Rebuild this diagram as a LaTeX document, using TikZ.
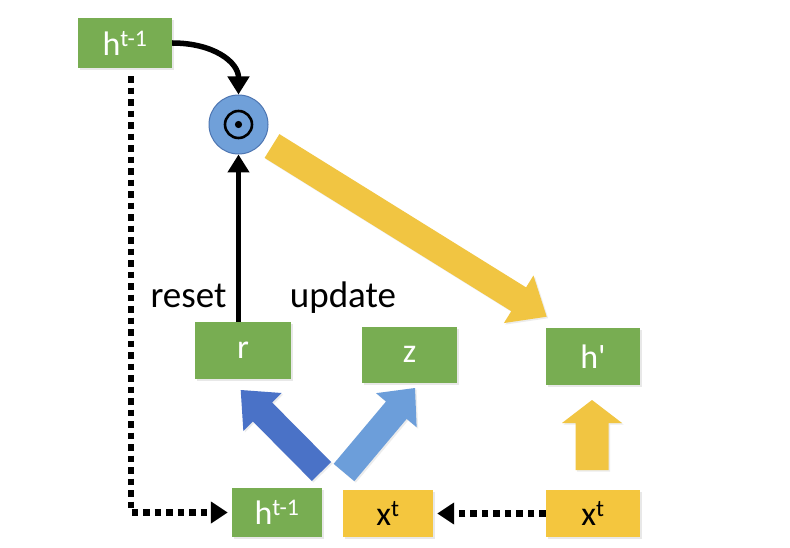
\documentclass[tikz,border=0pt]{standalone}
\usepackage{fontspec}
\setmainfont{Carlito}
\usetikzlibrary{arrows.meta,calc,shadows}
\definecolor{gbox}{RGB}{120,173,82}
\definecolor{ybox}{RGB}{244,198,62}
\definecolor{yarrow}{RGB}{241,197,66}
\definecolor{cfill}{RGB}{112,160,217}
\definecolor{cline}{RGB}{78,118,178}
\definecolor{bdark}{RGB}{74,114,199}
\definecolor{blight}{RGB}{108,158,218}
\tikzset{
  boxbase/.style={rectangle, inner sep=0pt, font=\fontsize{34}{40}\selectfont,
    drop shadow={opacity=0.18, shadow xshift=1.5pt, shadow yshift=-2pt}},
  gbx/.style={boxbase, fill=gbox, text=white},
  ybx/.style={boxbase, fill=ybox, text=black},
  lbl/.style={font=\fontsize{37}{44}\selectfont, anchor=base, inner sep=0pt},
  blackarrow/.style={line width=5.5pt, -{Triangle[length=18pt,width=21pt]}},
  dotline/.style={line width=6.5pt, dash pattern=on 6.5pt off 5pt,
    -{Triangle[length=17pt,width=21pt]}, shorten >=4pt},
  blockshadow/.style={drop shadow={opacity=0.15, shadow xshift=1.5pt, shadow yshift=-1.5pt}}
}
% #1 tail, #2 tip, #3 half shaft, #4 half head, #5 head length, #6 style
\newcommand\blockarrow[6]{%
  \coordinate (#1-hb) at ($(#2)!#5!(#1)$);
  \fill[#6] ($(#1)!#3!90:(#2)$) -- ($(#1-hb)!#3!90:(#2)$) -- ($(#1-hb)!#4!90:(#2)$)
    -- (#2) -- ($(#1-hb)!#4!-90:(#2)$) -- ($(#1-hb)!#3!-90:(#2)$)
    -- ($(#1)!#3!-90:(#2)$) -- cycle;
}
\begin{document}
\begin{tikzpicture}[x=1pt,y=-1pt]
\fill[white] (0,0) rectangle (790,548);
\useasboundingbox (0,0) rectangle (790,548);

% boxes
\node[gbx, minimum width=94pt, minimum height=50pt] (htop) at (125,43) {h\textsuperscript{t-1}};
\node[gbx, minimum width=96pt, minimum height=57pt] (r) at (243,350.5) {r};
\node[gbx, minimum width=95pt, minimum height=56pt] (z) at (409.5,354.5) {z};
\node[gbx, minimum width=94pt, minimum height=57pt] (hp) at (593,356.5) {h\textquotesingle};
\node[gbx, minimum width=90pt, minimum height=49pt] (hb) at (277,512.5) {h\textsuperscript{t-1}};
\node[ybx, minimum width=90pt, minimum height=47pt] (xb) at (388,513.5) {x\textsuperscript{t}};
\node[ybx, minimum width=94pt, minimum height=47pt] (xr) at (593,513.5) {x\textsuperscript{t}};

% odot circle
\node[circle, fill=cfill, draw=cline, line width=1pt, minimum size=59pt, inner sep=0pt] (odot) at (238.5,124.5) {};
\draw[line width=2.6pt] (odot.center) circle[radius=13.5];
\fill (odot.center) circle[radius=3.6];

% labels
\node[lbl] (reset) at (188.5,307) {reset};
\node[lbl] (update) at (343,307) {update};

% block arrows
\coordinate (ytail) at (272,146);
\coordinate (ytip) at (546.7,316.7);
\blockarrow{ytail}{ytip}{14pt}{28pt}{33pt}{yarrow, blockshadow}
\coordinate (ltail) at (321.5,471.5);
\coordinate (ltip) at (240.7,390);
\blockarrow{ltail}{ltip}{13.5pt}{27pt}{31pt}{bdark, blockshadow}
\coordinate (rtail) at (344,472.5);
\coordinate (rtip) at (415,388);
\blockarrow{rtail}{rtip}{13.5pt}{26.5pt}{29pt}{blight, blockshadow}
\coordinate (utail) at (592,470);
\coordinate (utip) at (592,400);
\blockarrow{utail}{utip}{16.5pt}{30pt}{23pt}{yarrow, blockshadow}

% black arrows
\draw[blackarrow] (odot.south |- r.north) -- (odot.south);
\draw[blackarrow] (htop.east) .. controls +(42,0) and +(0,-32) .. (odot.north);

% dotted connectors
\coordinate (dstart) at ($(htop.south)+(6,8)$);
\draw[dotline] (dstart) |- (hb.west);
\draw[dotline] (xr.west) -- (xb.east);
\end{tikzpicture}
\end{document}
